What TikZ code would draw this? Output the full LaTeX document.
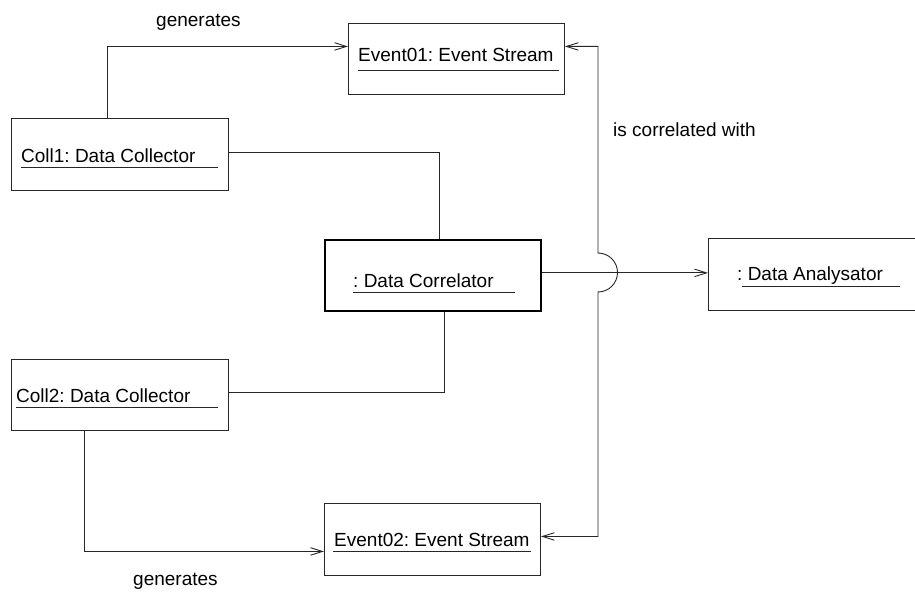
\documentclass[tikz,border=0pt]{standalone}
\usepackage{fontspec}
\setmainfont{Liberation Sans}
\usetikzlibrary{arrows.meta}
\frenchspacing
\begin{document}
\begin{tikzpicture}[x=1pt,y=-1pt,
  line/.style={draw=black!85,line width=0.9pt},
  objbox/.style={line,rectangle,inner sep=0pt,anchor=north west},
  mainbox/.style={objbox,line width=1.8pt,draw=black},
  lbl/.style={inner sep=0pt,anchor=base west,font=\fontsize{19}{22}\selectfont},
  uline/.style={line},
  conn/.style={line},
  arr/.style={conn,-{Straight Barb[length=12pt,width=7.5pt]}},
  arrboth/.style={conn,{Straight Barb[length=12pt,width=7.5pt]}-{Straight Barb[length=12pt,width=7.5pt]}}
]
\useasboundingbox (0,0) rectangle (915,593);
\clip (0,0) rectangle (915,593);

% object boxes
\node[objbox,minimum width=216pt,minimum height=71pt] (e1) at (348,23) {};
\node[objbox,minimum width=217pt,minimum height=72pt] (c1) at (11,118) {};
\node[mainbox,minimum width=216pt,minimum height=71pt] (cor) at (324,239) {};
\node[objbox,minimum width=220pt,minimum height=72pt] (an) at (708,238) {};
\node[objbox,minimum width=217pt,minimum height=71pt] (c2) at (11,359) {};
\node[objbox,minimum width=216pt,minimum height=72pt] (e2) at (324,503) {};

% object names, underlined
\node[lbl] (e1t) at (358,62) {Event01: Event Stream};
\draw[uline] (358,70) -- (559,70);
\node[lbl] (c1t) at (21,163) {Coll1: Data Collector};
\draw[uline] (21,167) -- (218,167);
\node[lbl] (cort) at (353,288) {: Data Correlator};
\draw[uline] (353,292) -- (515,292);
\node[lbl] (ant) at (737,281) {: Data Analysator};
\draw[uline] (742,286) -- (900,286);
\node[lbl] (c2t) at (16,402) {Coll2: Data Collector};
\draw[uline] (16,407) -- (218,407);
\node[lbl] (e2t) at (334,546) {Event02: Event Stream};
\draw[uline] (333,551) -- (531,551);

% association labels
\node[lbl] (gen1) at (156,27) {generates};
\node[lbl] (gen2) at (133,585) {generates};
\node[lbl] (corr) at (613,137) {is correlated with};

% connectors
\draw[arr] ([xshift=96pt]c1.north west) |- ([yshift=12.5pt]e1.west);
\draw[conn] ([yshift=2pt]c1.east) -| ([xshift=115pt]cor.north west);
\draw[conn] ([yshift=2.5pt]c2.east) -| ([xshift=120pt]cor.south west);
\draw[arr] ([xshift=73pt]c2.south west) |- ([yshift=-12pt]e2.west);
\draw[arr] ([yshift=2.5pt]cor.east) -- ([yshift=2.5pt]cor.east -| an.west);

% correlation link with a hop over the analysator connector
\coordinate (hop) at (598,253);
\draw[arrboth] ([yshift=12.5pt]e1.east) -| (hop)
  arc[start angle=-90,end angle=90,radius=19.5]
  |- ([yshift=3pt]e2.east);
\end{tikzpicture}
\end{document}
